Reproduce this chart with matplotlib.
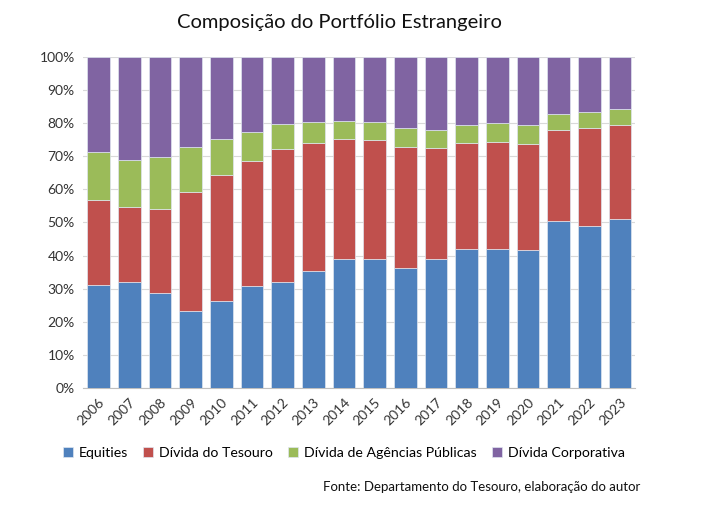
import numpy as np
import matplotlib.pyplot as plt

plt.rcParams['font.family'] = ['Lato', 'DejaVu Sans']

years = [str(y) for y in range(2006, 2024)]
# cumulative tops (%)
equities = [31.2, 32.1, 28.7, 23.3, 26.3, 30.9, 32.0, 35.3, 38.8, 38.9, 36.1, 39.0, 41.9, 41.9, 41.7, 50.5, 48.9, 51.1]
tesouro_top = [56.7, 54.5, 53.9, 59.3, 64.4, 68.5, 72.1, 74.0, 75.3, 74.8, 72.7, 72.5, 73.9, 74.2, 73.8, 78.0, 78.5, 79.3]
agencias_top = [71.1, 68.8, 69.7, 72.7, 75.2, 77.3, 79.6, 80.2, 80.7, 80.2, 78.4, 77.9, 79.3, 79.9, 79.4, 82.6, 83.4, 84.1]

equities = np.array(equities)
tesouro = np.array(tesouro_top) - equities
agencias = np.array(agencias_top) - np.array(tesouro_top)
corporativa = 100 - np.array(agencias_top)

series = [equities, tesouro, agencias, corporativa]
labels = ['Equities', 'Dívida do Tesouro', 'Dívida de Agências Públicas', 'Dívida Corporativa']
colors = ['#4F81BD', '#C0504D', '#9BBB59', '#8064A2']

fig = plt.figure(figsize=(7.17, 5.16), dpi=100)
ax = fig.add_axes([0.116, 0.248, 0.770, 0.642])

x = np.arange(len(years))
bottom = np.zeros(len(years))
for vals, lab, col in zip(series, labels, colors):
    ax.bar(x, vals, bottom=bottom, width=0.74, color=col, label=lab,
           edgecolor='#dfe6f0', linewidth=0.5, zorder=3)
    bottom += vals

ax.set_xlim(-0.5, len(years) - 0.5)
ax.set_ylim(0, 100)
ax.set_yticks(np.arange(0, 101, 10))
ax.set_yticklabels([f'{v}%' for v in range(0, 101, 10)], fontsize=10, color='#333333')
ax.set_xticks(x)
ax.set_xticklabels(years, rotation=45, ha='right', rotation_mode='anchor', fontsize=10, color='#333333')
ax.tick_params(axis='both', length=0, pad=6)
ax.yaxis.grid(True, color='#d9d9d9', linewidth=0.8, zorder=0)
for s in ['top', 'right', 'left']:
    ax.spines[s].set_visible(False)
ax.spines['bottom'].set_color('#bfbfbf')

fig.text(0.474, 0.957, 'Composição do Portfólio Estrangeiro', ha='center', va='center', fontsize=14.5, color='#111111')

ax.legend(loc='upper center', bbox_to_anchor=(0.472, -0.14), ncol=4, frameon=False,
          fontsize=10.2, handlelength=0.7, handleheight=0.7, handletextpad=0.4, columnspacing=1.1)

fig.text(0.893, 0.056, 'Fonte: Departamento do Tesouro, elaboração do autor', ha='right', va='center', fontsize=9.5, color='#111111')

fig.savefig('out.png', dpi=100, facecolor='white')
